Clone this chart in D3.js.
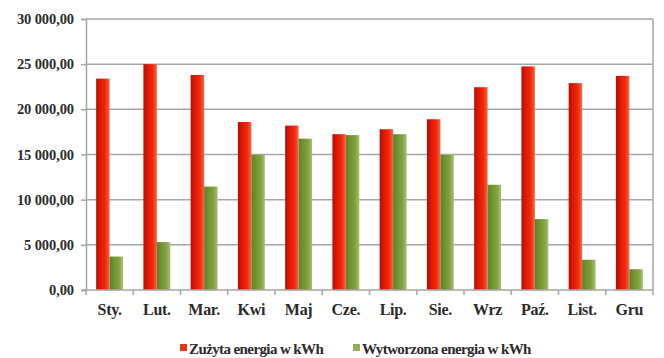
<!DOCTYPE html>
<html>
<head>
<meta charset="utf-8">
<script src="https://cdn.jsdelivr.net/npm/d3@7"></script>
<style>
  html, body { margin: 0; padding: 0; background: #fff; }
  svg { display: block; }
</style>
</head>
<body>
<svg id="chart" width="664" height="358"></svg>
<script>
// Monthly energy: consumed vs produced (kWh)
const months = ["Sty.", "Lut.", "Mar.", "Kwi", "Maj", "Cze.", "Lip.", "Sie.", "Wrz", "Paź.", "List.", "Gru"];
const consumed = [23400, 25000, 23800, 18600, 18200, 17250, 17800, 18900, 22450, 24750, 22900, 23700];
const produced = [3700, 5300, 11450, 14950, 16750, 17150, 17250, 14950, 11650, 7850, 3350, 2300];
const seriesNames = ["Zużyta energia w kWh", "Wytworzona energia w kWh"];
const yTicks = [0, 5000, 10000, 15000, 20000, 25000, 30000];

const FONT = '"Liberation Serif", "Times New Roman", "DejaVu Serif", serif';
const TEXT_COLOR = "#2b2b2b";

const svg = d3.select("#chart");
const margin = { left: 86, right: 11, top: 19, bottom: 68 };
const W = 664, H = 358;
const plotW = W - margin.left - margin.right;
const plotH = H - margin.top - margin.bottom;

const g = svg.append("g").attr("transform", `translate(${margin.left},${margin.top})`);

const x0 = d3.scaleBand().domain(months).range([0, plotW]).paddingInner(0.43).paddingOuter(0.215);
const xBand = d3.scaleBand().domain(months).range([0, plotW]);
const x1 = d3.scaleBand().domain([0, 1]).range([0, x0.bandwidth()]).padding(0);
const y = d3.scaleLinear().domain([0, 30000]).range([plotH, 0]);

const pl = d3.formatLocale({ decimal: ",", thousands: " ", grouping: [3], currency: ["", " zł"] });
const fmt = pl.format(",.2f");

// bar gradients
const defs = svg.append("defs");
function grad(id, stops) {
  const lg = defs.append("linearGradient").attr("id", id).attr("x1", "0%").attr("x2", "100%").attr("y1", "0").attr("y2", "0");
  stops.forEach(s => lg.append("stop").attr("offset", s[0]).attr("stop-color", s[1]));
}
grad("gRed", [["0%", "#b80d05"], ["35%", "#e01a06"], ["70%", "#f4290c"], ["100%", "#f26a4a"]]);
grad("gGreen", [["0%", "#5f8127"], ["35%", "#719530"], ["70%", "#82a340"], ["100%", "#a9c07a"]]);
const fills = ["url(#gRed)", "url(#gGreen)"];
const legendColors = ["#e8341c", "#94ad5c"];

// gridlines
g.append("g").selectAll("line").data(yTicks.filter(d => d > 0)).join("line")
  .attr("x1", 0).attr("x2", plotW)
  .attr("y1", d => y(d)).attr("y2", d => y(d))
  .attr("stroke", "#a6a6a6").attr("stroke-width", 1.5);

// plot frame (right side)
g.append("line").attr("x1", plotW).attr("x2", plotW).attr("y1", 0).attr("y2", plotH)
  .attr("stroke", "#a6a6a6").attr("stroke-width", 1.5);

// bars
const groups = g.append("g").selectAll("g").data(months).join("g")
  .attr("transform", d => `translate(${x0(d)},0)`);
groups.selectAll("rect").data((m, i) => [consumed[i], produced[i]]).join("rect")
  .attr("x", (d, k) => x1(k))
  .attr("width", x1.bandwidth())
  .attr("y", d => y(d))
  .attr("height", d => plotH - y(d))
  .attr("fill", (d, k) => fills[k]);

// y axis
const yAxis = g.append("g").call(d3.axisLeft(y).tickValues(yTicks).tickFormat(fmt).tickSize(5).tickPadding(7));
yAxis.attr("font-family", FONT);
yAxis.select(".domain").attr("stroke", "#a6a6a6").attr("stroke-width", 1.5);
yAxis.selectAll(".tick line").attr("stroke", "#a6a6a6").attr("stroke-width", 1.5);
yAxis.selectAll("text").attr("font-size", 14.5).attr("font-weight", "bold")
  .attr("fill", TEXT_COLOR).attr("font-family", FONT).attr("letter-spacing", "-0.1");

// x axis: ticks between categories
const xg = g.append("g").attr("transform", `translate(0,${plotH})`);
xg.append("line").attr("x1", -4).attr("x2", plotW).attr("y1", 0).attr("y2", 0)
  .attr("stroke", "#a6a6a6").attr("stroke-width", 1.5);
const bounds = months.map(m => xBand(m)).concat([plotW]);
xg.selectAll("line.tk").data(bounds).join("line").attr("class", "tk")
  .attr("x1", d => d).attr("x2", d => d).attr("y1", 0).attr("y2", 5)
  .attr("stroke", "#a6a6a6").attr("stroke-width", 1.5);
xg.selectAll("text").data(months).join("text")
  .attr("x", d => xBand(d) + xBand.bandwidth() / 2)
  .attr("y", 25)
  .attr("text-anchor", "middle")
  .attr("font-family", FONT)
  .attr("font-weight", "bold")
  .attr("fill", TEXT_COLOR)
  .attr("font-size", 16)
  .attr("letter-spacing", "-0.3")
  .text(d => d);

// legend
const legendX = [180, 353];
const lg = svg.append("g");
seriesNames.forEach((name, k) => {
  lg.append("rect").attr("x", legendX[k]).attr("y", 344).attr("width", 7).attr("height", 7).attr("fill", legendColors[k]);
  lg.append("text").attr("x", legendX[k] + 9).attr("y", 354)
    .attr("font-family", FONT).attr("font-weight", "bold").attr("fill", TEXT_COLOR)
    .attr("font-size", 15).attr("letter-spacing", "-0.6").text(name);
});
</script>
</body>
</html>
